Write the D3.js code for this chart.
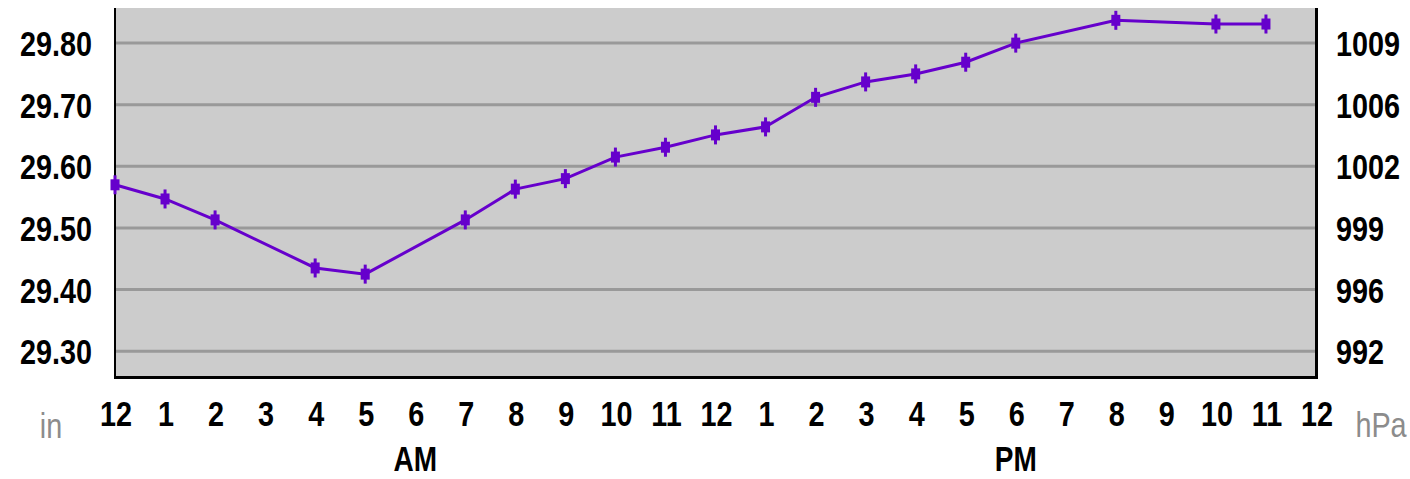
<!DOCTYPE html>
<html>
<head>
<meta charset="utf-8">
<script src="https://cdn.jsdelivr.net/npm/d3@7"></script>
<style>
  html, body { margin: 0; padding: 0; background: #ffffff; }
  svg { display: block; }
</style>
</head>
<body>
<script>
// ---- data ----
const hours = [0, 1, 2, 4, 5, 7, 8, 9, 10, 11, 12, 13, 14, 15, 16, 17, 18, 20, 22, 23];
const pressureIn = [29.57, 29.547, 29.513, 29.435, 29.425, 29.513, 29.563, 29.58, 29.615, 29.631,
                    29.651, 29.664, 29.712, 29.737, 29.75, 29.769, 29.80, 29.837, 29.831, 29.831];
const inTicks = [29.30, 29.40, 29.50, 29.60, 29.70, 29.80];
const inTickLabels = ["29.30", "29.40", "29.50", "29.60", "29.70", "29.80"];
const hPaTickLabels = ["992", "996", "999", "1002", "1006", "1009"];
const hourTicks = d3.range(0, 25);
const hourLabels = ["12","1","2","3","4","5","6","7","8","9","10","11",
                    "12","1","2","3","4","5","6","7","8","9","10","11","12"];
const periodLabels = ["AM", "PM"];
const periodHours = [6, 18];

// ---- layout ----
const W = 1410, H = 479;
const plot = { left: 115, right: 1316, top: 8, bottom: 377 };

const svg = d3.select("body").append("svg").attr("width", W).attr("height", H);

const x = d3.scaleLinear().domain([0, 24]).range([plot.left, plot.right]);
const y = d3.scaleLinear().domain([29.258, 29.857]).range([plot.bottom, plot.top]);

const FONT = "'Liberation Sans', Arial, sans-serif";
const SX = 0.8;

function label(g, tx, ty, text, anchor, color, weight, size) {
  g.append("text")
    .attr("transform", `translate(${tx},${ty}) scale(${SX},1)`)
    .attr("text-anchor", anchor)
    .attr("font-family", FONT)
    .attr("font-size", size || 36)
    .attr("font-weight", weight || "bold")
    .attr("fill", color || "#000")
    .text(text);
}

// plot background
svg.append("rect")
  .attr("x", plot.left).attr("y", plot.top)
  .attr("width", plot.right - plot.left).attr("height", plot.bottom - plot.top)
  .attr("fill", "#cccccc");

// gridlines
svg.append("g").selectAll("line").data(inTicks).join("line")
  .attr("x1", plot.left).attr("x2", plot.right)
  .attr("y1", d => y(d)).attr("y2", d => y(d))
  .attr("stroke", "#999999").attr("stroke-width", 3);

// borders
svg.append("line").attr("x1", plot.left).attr("x2", plot.left)
  .attr("y1", plot.top).attr("y2", plot.bottom + 1.5)
  .attr("stroke", "#000").attr("stroke-width", 2);
svg.append("line").attr("x1", plot.right + 0.5).attr("x2", plot.right + 0.5)
  .attr("y1", plot.top).attr("y2", plot.bottom + 1.5)
  .attr("stroke", "#000").attr("stroke-width", 3);
svg.append("line").attr("x1", plot.left - 1).attr("x2", plot.right + 2)
  .attr("y1", plot.bottom + 0.5).attr("y2", plot.bottom + 0.5)
  .attr("stroke", "#000").attr("stroke-width", 3);

// left axis labels
const gl = svg.append("g");
inTicks.forEach((v, i) => label(gl, 92, y(v) + 13, inTickLabels[i], "end"));
// right axis labels
const gr = svg.append("g");
inTicks.forEach((v, i) => label(gr, 1336, y(v) + 13, hPaTickLabels[i], "start"));

// x axis labels
const gx = svg.append("g");
hourTicks.forEach((h, i) => label(gx, x(h) + 1, 426, hourLabels[i], "middle"));
periodHours.forEach((h, i) => label(gx, x(h), 471, periodLabels[i], "middle", "#000", "bold", 35));

// unit labels
label(svg, 51, 438, "in", "middle", "#8c8c8c", "normal");
label(svg, 1381, 437, "hPa", "middle", "#8c8c8c", "normal");

// line
const data = hours.map((h, i) => ({ h, v: pressureIn[i] }));
const color = "#6600cc";
svg.append("path")
  .datum(data)
  .attr("fill", "none")
  .attr("stroke", color)
  .attr("stroke-width", 3)
  .attr("d", d3.line().x(d => x(d.h)).y(d => y(d.v)));

// markers
const mk = svg.append("g").selectAll("g").data(data).join("g")
  .attr("transform", d => `translate(${x(d.h)},${y(d.v)})`);
mk.append("rect").attr("x", -4.5).attr("y", -5.5).attr("width", 9).attr("height", 11).attr("fill", color);
mk.append("rect").attr("x", -1.5).attr("y", -9.5).attr("width", 3).attr("height", 19).attr("fill", color);
</script>
</body>
</html>
